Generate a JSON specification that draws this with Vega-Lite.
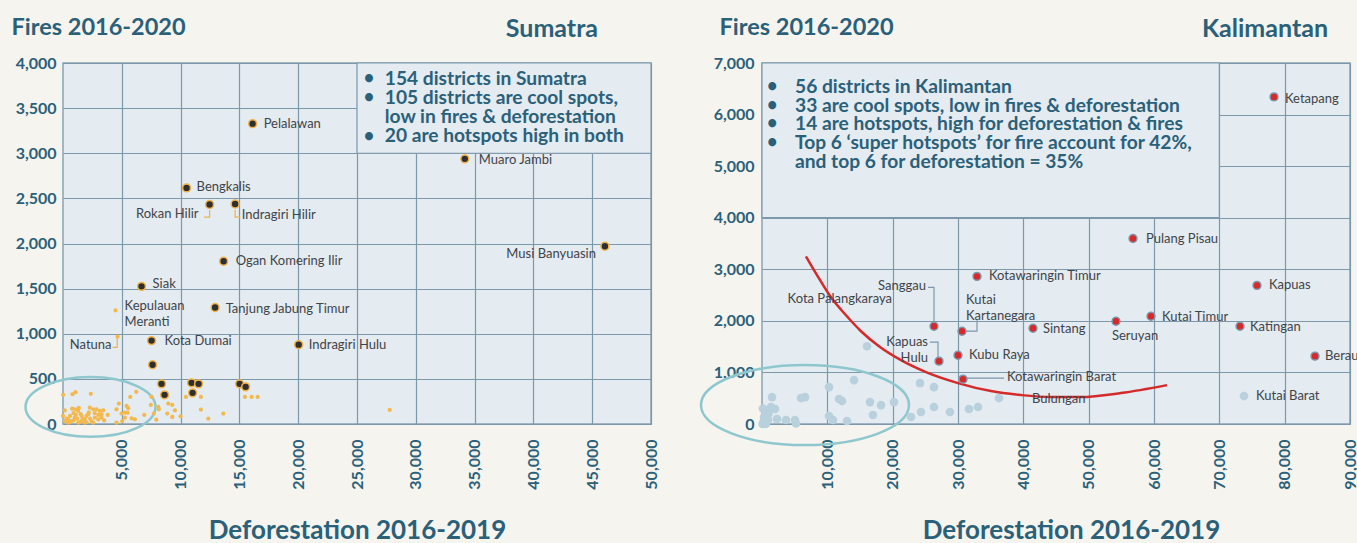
{
  "$schema": "https://vega.github.io/schema/vega-lite/v6.json",
  "background": "#f5f4ee",
  "padding": {"left": 10, "top": 14, "right": 0, "bottom": 0},
  "bounds": "flush",
  "spacing": 111,
  "config": {
    "font": "Lato",
    "view": {"fill": "#e4ebf1", "stroke": "#8aa2b4", "strokeWidth": 1.5},
    "axis": {
      "labelFont": "Lato", "labelFontWeight": "bold", "labelFontSize": 16, "labelColor": "#2b6079",
      "ticks": false, "domain": false, "gridColor": "#7d98ab", "gridWidth": 1.2, "gridOpacity": 1,
      "titleFont": "Lato", "titleFontWeight": "bold", "titleColor": "#2b6079", "titleFontSize": 25
    },
    "title": {"font": "Lato", "fontWeight": "bold", "color": "#2b6079", "fontSize": 25},
    "text": {"font": "Lato"}
  },
  "datasets": {
    "s_box": [{"x": 25000, "x2": 50000, "y": 3000, "y2": 4000}],
    "k_box": [{"x": 0, "x2": 70000, "y": 4000, "y2": 7000}],
    "s_notes": [
      {"x": 27360, "y": 3818, "t": "154 districts in Sumatra\n105 districts are cool spots,\nlow in fires & deforestation\n20 are hotspots high in both"}
    ],
    "s_bullets": [{"x": 25572, "y": 3818}, {"x": 25572, "y": 3607}, {"x": 25572, "y": 3184}],
    "k_notes": [
      {"x": 5051, "y": 6537, "t": "56 districts in Kalimantan\n33 are cool spots, low in fires & deforestation\n14 are hotspots, high for deforestation & fires\nTop 6 ‘super hotspots’ for fire account for 42%,\nand top 6 for deforestation = 35%"}
    ],
    "k_bullets": [{"x": 765, "y": 6537}, {"x": 765, "y": 6174}, {"x": 765, "y": 5812}, {"x": 765, "y": 5449}],
    "s_ell": [{"x": 2340, "y": 189}],
    "k_ell": [{"x": 6582, "y": 367}],
    "s_big": [
      {"name": "Pelalawan", "x": 16126, "y": 3328},
      {"name": "Muaro Jambi", "x": 34168, "y": 2938},
      {"name": "Bengkalis", "x": 10510, "y": 2616},
      {"name": "Rokan Hilir", "x": 12467, "y": 2432},
      {"name": "Indragiri Hilir", "x": 14637, "y": 2437},
      {"name": "Ogan Komering Ilir", "x": 13659, "y": 1803},
      {"name": "Musi Banyuasin", "x": 46082, "y": 1970},
      {"name": "Siak", "x": 6680, "y": 1525},
      {"name": "Tanjung Jabung Timur", "x": 12935, "y": 1291},
      {"name": "Kota Dumai", "x": 7531, "y": 924},
      {"name": "Indragiri Hulu", "x": 20041, "y": 879},
      {"name": "", "x": 7616, "y": 657},
      {"name": "", "x": 8382, "y": 445},
      {"name": "", "x": 8638, "y": 323},
      {"name": "", "x": 10935, "y": 456},
      {"name": "", "x": 11531, "y": 445},
      {"name": "", "x": 11020, "y": 345},
      {"name": "", "x": 15020, "y": 445},
      {"name": "", "x": 15531, "y": 412}
    ],
    "s_small": [
      {"x": 4468, "y": 1258}, {"x": 4638, "y": 968}, {"x": 27785, "y": 156},
      {"x": 17, "y": 323}, {"x": 808, "y": 330}, {"x": 1064, "y": 353}, {"x": 2366, "y": 334},
      {"x": 783, "y": 170}, {"x": 1064, "y": 163}, {"x": 1345, "y": 178}, {"x": 1293, "y": 145},
      {"x": 0, "y": 89}, {"x": 153, "y": 33}, {"x": 442, "y": 52}, {"x": 723, "y": 33},
      {"x": 1004, "y": 70}, {"x": 1574, "y": 89}, {"x": 1855, "y": 52}, {"x": 2144, "y": 108},
      {"x": 2425, "y": 33}, {"x": 2281, "y": 181}, {"x": 2570, "y": 163}, {"x": 2851, "y": 163},
      {"x": 3132, "y": 145}, {"x": 3421, "y": 152}, {"x": 3276, "y": 108}, {"x": 3276, "y": 70},
      {"x": 2706, "y": 70}, {"x": 1574, "y": 33}, {"x": 1293, "y": 15}, {"x": 442, "y": 15},
      {"x": 1855, "y": 15}, {"x": 2570, "y": 15}, {"x": 4553, "y": 15}, {"x": 5038, "y": 33},
      {"x": 4553, "y": 163}, {"x": 4749, "y": 226}, {"x": 4979, "y": 115}, {"x": 5259, "y": 126},
      {"x": 5404, "y": 200}, {"x": 5548, "y": 175}, {"x": 5489, "y": 126}, {"x": 5718, "y": 300},
      {"x": 6229, "y": 356}, {"x": 5829, "y": 63}, {"x": 6110, "y": 52}, {"x": 5259, "y": 70},
      {"x": 6910, "y": 100}, {"x": 7531, "y": 300}, {"x": 7471, "y": 211}, {"x": 7727, "y": 115},
      {"x": 7931, "y": 48}, {"x": 8101, "y": 189}, {"x": 8152, "y": 163}, {"x": 8952, "y": 226},
      {"x": 9293, "y": 211}, {"x": 8867, "y": 115}, {"x": 9293, "y": 78}, {"x": 9514, "y": 152},
      {"x": 9999, "y": 85}, {"x": 10450, "y": 300}, {"x": 11727, "y": 300}, {"x": 11727, "y": 160},
      {"x": 12356, "y": 59}, {"x": 13633, "y": 115}, {"x": 15471, "y": 300}, {"x": 16041, "y": 300},
      {"x": 16552, "y": 300},
      {"x": 300, "y": 60}, {"x": 600, "y": 90}, {"x": 900, "y": 40}, {"x": 1200, "y": 60},
      {"x": 1500, "y": 110}, {"x": 1700, "y": 60}, {"x": 2000, "y": 90}, {"x": 2300, "y": 60},
      {"x": 2700, "y": 120}, {"x": 3000, "y": 50}, {"x": 3500, "y": 40}, {"x": 3800, "y": 100},
      {"x": 900, "y": 120}, {"x": 1100, "y": 100}, {"x": 1400, "y": 20}, {"x": 2000, "y": 20},
      {"x": 2200, "y": 130}, {"x": 3000, "y": 100}, {"x": 600, "y": 20}, {"x": 150, "y": 150}
    ],
    "s_lab_l": [
      {"x": 17063, "y": 3328, "t": "Pelalawan"},
      {"x": 35359, "y": 2927, "t": "Muaro Jambi"},
      {"x": 11361, "y": 2627, "t": "Bengkalis"},
      {"x": 15190, "y": 2315, "t": "Indragiri Hilir"},
      {"x": 14680, "y": 1803, "t": "Ogan Komering Ilir"},
      {"x": 7616, "y": 1547, "t": "Siak"},
      {"x": 5234, "y": 1313, "t": "Kepulauan\nMeranti"},
      {"x": 13829, "y": 1269, "t": "Tanjung Jabung Timur"},
      {"x": 8638, "y": 924, "t": "Kota Dumai"},
      {"x": 20892, "y": 879, "t": "Indragiri Hulu"}
    ],
    "s_lab_r": [
      {"x": 11531, "y": 2326, "t": "Rokan Hilir"},
      {"x": 45316, "y": 1881, "t": "Musi Banyuasin"},
      {"x": 4127, "y": 879, "t": "Natuna"}
    ],
    "s_lead": [
      {"id": "rh", "o": 1, "x": 12467, "y": 2371}, {"id": "rh", "o": 2, "x": 12467, "y": 2293}, {"id": "rh", "o": 3, "x": 12000, "y": 2293},
      {"id": "ih", "o": 1, "x": 14637, "y": 2371}, {"id": "ih", "o": 2, "x": 14637, "y": 2293}, {"id": "ih", "o": 3, "x": 15063, "y": 2293},
      {"id": "na", "o": 1, "x": 4612, "y": 957}, {"id": "na", "o": 2, "x": 4612, "y": 849}, {"id": "na", "o": 3, "x": 4212, "y": 849}
    ],
    "k_red": [
      {"name": "Ketapang", "x": 78367, "y": 6343},
      {"name": "Pulang Pisau", "x": 56785, "y": 3597},
      {"name": "Kapuas", "x": 75765, "y": 2688},
      {"name": "Kotawaringin Timur", "x": 32908, "y": 2862},
      {"name": "Sanggau", "x": 26326, "y": 1895},
      {"name": "Kutai Kartanegara", "x": 30612, "y": 1799},
      {"name": "Sintang", "x": 41479, "y": 1857},
      {"name": "Seruyan", "x": 54183, "y": 1992},
      {"name": "Kutai Timur", "x": 59540, "y": 2089},
      {"name": "Katingan", "x": 73163, "y": 1895},
      {"name": "Berau", "x": 84642, "y": 1315},
      {"name": "Kapuas Hulu", "x": 27092, "y": 1218},
      {"name": "Kubu Raya", "x": 30000, "y": 1334},
      {"name": "Kotawaringin Barat", "x": 30765, "y": 870}
    ],
    "k_blue": [
      {"x": 73775, "y": 542}, {"x": 16071, "y": 1508}, {"x": 10255, "y": 716}, {"x": 14082, "y": 851},
      {"x": 24183, "y": 793}, {"x": 26326, "y": 716}, {"x": 1531, "y": 522}, {"x": 5969, "y": 503},
      {"x": 6582, "y": 522}, {"x": 11786, "y": 484}, {"x": 12245, "y": 445}, {"x": 16531, "y": 425},
      {"x": 18214, "y": 367}, {"x": 20204, "y": 425}, {"x": 1378, "y": 329}, {"x": 1990, "y": 290},
      {"x": 612, "y": 213}, {"x": 306, "y": 135}, {"x": 2296, "y": 97}, {"x": 3673, "y": 77},
      {"x": 5051, "y": 77}, {"x": 5204, "y": 10}, {"x": 153, "y": 19}, {"x": 612, "y": 5},
      {"x": 100, "y": 0}, {"x": 10255, "y": 155}, {"x": 10867, "y": 77}, {"x": 13010, "y": 58},
      {"x": 16990, "y": 174}, {"x": 22806, "y": 135}, {"x": 24337, "y": 232}, {"x": 26326, "y": 329},
      {"x": 28775, "y": 232}, {"x": 31683, "y": 290}, {"x": 33061, "y": 329}, {"x": 36275, "y": 503},
      {"x": 918, "y": 77}, {"x": 306, "y": 58}, {"x": 459, "y": 10}, {"x": 1000, "y": 200}, {"x": 150, "y": 300}
    ],
    "k_lab_l": [
      {"x": 80050, "y": 6305, "t": "Ketapang"},
      {"x": 58775, "y": 3578, "t": "Pulang Pisau"},
      {"x": 77601, "y": 2688, "t": "Kapuas"},
      {"x": 34745, "y": 2862, "t": "Kotawaringin Timur"},
      {"x": 31224, "y": 2398, "t": "Kutai\nKartanegara"},
      {"x": 43010, "y": 1837, "t": "Sintang"},
      {"x": 53571, "y": 1702, "t": "Seruyan"},
      {"x": 61224, "y": 2069, "t": "Kutai Timur"},
      {"x": 74693, "y": 1876, "t": "Katingan"},
      {"x": 86173, "y": 1315, "t": "Berau"},
      {"x": 31683, "y": 1334, "t": "Kubu Raya"},
      {"x": 37500, "y": 909, "t": "Kotawaringin Barat"},
      {"x": 41326, "y": 484, "t": "Bulungan"},
      {"x": 75612, "y": 542, "t": "Kutai Barat"}
    ],
    "k_lab_r": [
      {"x": 25102, "y": 2669, "t": "Sanggau"},
      {"x": 19898, "y": 2418, "t": "Kota Palangkaraya"},
      {"x": 25408, "y": 1586, "t": "Kapuas\nHulu"}
    ],
    "k_lead": [
      {"id": "sg", "o": 1, "x": 25408, "y": 2650}, {"id": "sg", "o": 2, "x": 26326, "y": 2650}, {"id": "sg", "o": 3, "x": 26326, "y": 1953},
      {"id": "kk", "o": 1, "x": 30765, "y": 1799}, {"id": "kk", "o": 2, "x": 32908, "y": 1799}, {"id": "kk", "o": 3, "x": 32908, "y": 2011},
      {"id": "kh", "o": 1, "x": 25700, "y": 1586}, {"id": "kh", "o": 2, "x": 26939, "y": 1586}, {"id": "kh", "o": 3, "x": 26939, "y": 1296},
      {"id": "kb", "o": 1, "x": 31224, "y": 890}, {"id": "kb", "o": 2, "x": 37041, "y": 890}
    ],
    "k_arc": [
      {"x": 6735, "y": 3249}, {"x": 8724, "y": 2824}, {"x": 10561, "y": 2456}, {"x": 12857, "y": 2108},
      {"x": 15153, "y": 1799}, {"x": 17908, "y": 1508}, {"x": 21276, "y": 1238}, {"x": 25102, "y": 1006},
      {"x": 30000, "y": 793}, {"x": 35051, "y": 638}, {"x": 39643, "y": 561}, {"x": 44234, "y": 522},
      {"x": 48826, "y": 522}, {"x": 54948, "y": 600}, {"x": 61989, "y": 754}
    ]
  },
  "hconcat": [
    {
      "width": 588, "height": 361,
      "title": {"text": "Sumatra", "anchor": "end", "frame": "group", "dx": -53, "dy": 27, "baseline": "alphabetic", "offset": -20},
      "encoding": {
        "x": {"field": "x", "type": "quantitative", "scale": {"domain": [0, 50000], "nice": false, "zero": false},
          "axis": {"values": [5000, 10000, 15000, 20000, 25000, 30000, 35000, 40000, 45000, 50000], "format": ",.0f", "grid": true, "labelAngle": -90, "labelAlign": "right", "labelBaseline": "middle", "labelPadding": 15, "title": "Deforestation 2016-2019", "titleFontSize": 26, "titleBaseline": "alphabetic", "titleY": 114}},
        "y": {"field": "y", "type": "quantitative", "scale": {"domain": [0, 4000], "nice": false, "zero": false},
          "axis": {"values": [0, 500, 1000, 1500, 2000, 2500, 3000, 3500, 4000], "format": ",.0f", "grid": true, "labelPadding": 7, "title": "Fires 2016-2020", "titleFontSize": 23.5, "titleAngle": 0, "titleAlign": "left", "titleAnchor": "start", "titleBaseline": "alphabetic", "titleX": -52, "titleY": -29}}
      },
      "layer": [
        {"data": {"name": "s_box"}, "mark": {"type": "rect", "fill": "#e4ebf1", "stroke": "#7d98ab", "strokeWidth": 1.2}, "encoding": {"x2": {"field": "x2"}, "y2": {"field": "y2"}}},
        {"data": {"name": "s_bullets"}, "mark": {"type": "text", "text": "•", "fontSize": 18, "fontWeight": "bold", "color": "#2b6079", "align": "left", "baseline": "middle"}},
        {"data": {"name": "s_notes"}, "mark": {"type": "text", "fontSize": 19.2, "fontWeight": "bold", "color": "#2b6079", "align": "left", "baseline": "middle", "lineBreak": "\n", "lineHeight": 19}, "encoding": {"text": {"field": "t"}}},
        {"data": {"name": "s_ell"}, "mark": {"type": "point", "shape": "M -1 0 A 1 0.46 0 1 0 1 0 A 1 0.46 0 1 0 -1 0 Z", "size": 16900, "filled": false, "stroke": "#8fc7cf", "strokeWidth": 2.5, "opacity": 1}},
        {"data": {"name": "s_lead"}, "mark": {"type": "line", "color": "#efb24a", "strokeWidth": 1.2}, "encoding": {"detail": {"field": "id"}, "order": {"field": "o"}}},
        {"data": {"name": "s_small"}, "mark": {"type": "circle", "size": 18, "color": "#f2b94f", "opacity": 1}},
        {"data": {"name": "s_big"}, "mark": {"type": "circle", "size": 62, "fill": "#2f2f2f", "stroke": "#f0b44a", "strokeWidth": 1.5, "opacity": 1}},
        {"data": {"name": "s_lab_l"}, "mark": {"type": "text", "fontSize": 13, "color": "#404448", "align": "left", "baseline": "middle", "lineBreak": "\n", "lineHeight": 16}, "encoding": {"text": {"field": "t"}}},
        {"data": {"name": "s_lab_r"}, "mark": {"type": "text", "fontSize": 13, "color": "#404448", "align": "right", "baseline": "middle", "lineBreak": "\n", "lineHeight": 16}, "encoding": {"text": {"field": "t"}}}
      ]
    },
    {
      "width": 588, "height": 361,
      "title": {"text": "Kalimantan", "anchor": "end", "frame": "group", "dx": -22, "dy": 27, "baseline": "alphabetic", "offset": -20},
      "encoding": {
        "x": {"field": "x", "type": "quantitative", "scale": {"domain": [0, 90000], "nice": false, "zero": false},
          "axis": {"values": [10000, 20000, 30000, 40000, 50000, 60000, 70000, 80000, 90000], "format": ",.0f", "grid": true, "labelAngle": -90, "labelAlign": "right", "labelBaseline": "middle", "labelPadding": 15, "title": "Deforestation 2016-2019", "titleFontSize": 26, "titleBaseline": "alphabetic", "titleY": 114, "titleX": 309}},
        "y": {"field": "y", "type": "quantitative", "scale": {"domain": [0, 7000], "nice": false, "zero": false},
          "axis": {"values": [0, 1000, 2000, 3000, 4000, 5000, 6000, 7000], "format": ",.0f", "grid": true, "labelPadding": 8, "title": "Fires 2016-2020", "titleFontSize": 23.5, "titleAngle": 0, "titleAlign": "left", "titleAnchor": "start", "titleBaseline": "alphabetic", "titleX": -43, "titleY": -29}}
      },
      "layer": [
        {"data": {"name": "k_box"}, "mark": {"type": "rect", "fill": "#e4ebf1", "stroke": "#7d98ab", "strokeWidth": 1.2}, "encoding": {"x2": {"field": "x2"}, "y2": {"field": "y2"}}},
        {"data": {"name": "k_bullets"}, "mark": {"type": "text", "text": "•", "fontSize": 18, "fontWeight": "bold", "color": "#2b6079", "align": "left", "baseline": "middle"}},
        {"data": {"name": "k_notes"}, "mark": {"type": "text", "fontSize": 19.2, "fontWeight": "bold", "color": "#2b6079", "align": "left", "baseline": "middle", "lineBreak": "\n", "lineHeight": 18.75}, "encoding": {"text": {"field": "t"}}},
        {"data": {"name": "k_ell"}, "mark": {"type": "point", "shape": "M -1 0 A 1 0.385 0 1 0 1 0 A 1 0.385 0 1 0 -1 0 Z", "size": 43264, "filled": false, "stroke": "#8fc7cf", "strokeWidth": 2.5, "opacity": 1}},
        {"data": {"name": "k_lead"}, "mark": {"type": "line", "color": "#7d98ab", "strokeWidth": 1.2}, "encoding": {"detail": {"field": "id"}, "order": {"field": "o"}}},
        {"data": {"name": "k_blue"}, "mark": {"type": "circle", "size": 75, "color": "#b9d1dd", "opacity": 1}},
        {"data": {"name": "k_arc"}, "mark": {"type": "line", "interpolate": "monotone", "color": "#d42a2a", "strokeWidth": 2.5}},
        {"data": {"name": "k_red"}, "mark": {"type": "circle", "size": 62, "fill": "#d8282a", "stroke": "#7d98ab", "strokeWidth": 1.5, "opacity": 1}},
        {"data": {"name": "k_lab_l"}, "mark": {"type": "text", "fontSize": 13, "color": "#404448", "align": "left", "baseline": "middle", "lineBreak": "\n", "lineHeight": 16}, "encoding": {"text": {"field": "t"}}},
        {"data": {"name": "k_lab_r"}, "mark": {"type": "text", "fontSize": 13, "color": "#404448", "align": "right", "baseline": "middle", "lineBreak": "\n", "lineHeight": 16}, "encoding": {"text": {"field": "t"}}}
      ]
    }
  ]
}
